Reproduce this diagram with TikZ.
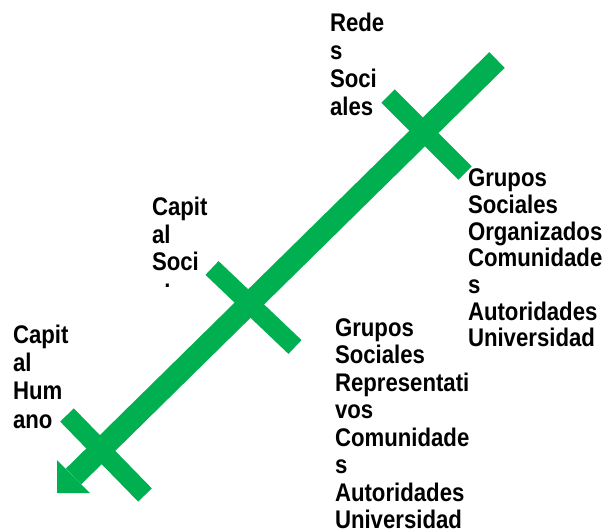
\documentclass[tikz,border=0pt]{standalone}
\usepackage{fontspec}
\setmainfont{Liberation Sans}[FakeStretch=0.87]
\definecolor{arrowgreen}{RGB}{0,176,80}
\begin{document}
\begin{tikzpicture}[x=1pt,y=-1pt,
  shaft/.style={draw=arrowgreen,line width=22pt},
  tick/.style={draw=arrowgreen,line width=19pt},
  lbl/.style={anchor=base west,inner sep=0pt,outer sep=0pt,text=black}]
\useasboundingbox (0,0) rectangle (607,529);
% main arrow
\coordinate (top) at (497,60);
\coordinate (back) at (73.5,476.5);
\coordinate (tipA) at (57,460);
\coordinate (tip) at (57,493);
\coordinate (tipB) at (90,493);
\draw[shaft] (top) -- (back);
\fill[arrowgreen] (tipA) -- (tip) -- (tipB) -- cycle;
% cross ticks
\coordinate (t1a) at (388,96);  \coordinate (t1b) at (465,173);
\coordinate (t2a) at (212,268); \coordinate (t2b) at (295,347);
\coordinate (t3a) at (67,415);  \coordinate (t3b) at (145,495);
\draw[tick] (t1a) -- (t1b);
\draw[tick] (t2a) -- (t2b);
\draw[tick] (t3a) -- (t3b);
% labels
\node[lbl] (redes) at (330,32) {\parbox[t]{90pt}{\fontsize{25.5}{27.7}\selectfont\bfseries Rede\\s\\Soci\\ales}};
\node[lbl] (social) at (152,216) {\parbox[t]{90pt}{\fontsize{25.5}{27.3}\selectfont\bfseries Capit\\al\\Soci}};
\begin{scope}
\clip (140,270) rectangle (260,286);
\node[lbl] (socialrest) at (152,302) {\fontsize{25.5}{27.3}\selectfont\bfseries al};
\end{scope}
\node[lbl] (humano) at (13,343.3) {\parbox[t]{90pt}{\fontsize{25.5}{28.3}\selectfont\bfseries Capit\\al\\Hum\\ano}};
\node[lbl] (grupos1) at (335,336) {\parbox[t]{160pt}{\fontsize{25.5}{27.5}\selectfont\bfseries Grupos\\Sociales\\Representati\\vos\\Comunidade\\s\\Autoridades\\Universidad}};
\node[lbl] (grupos2) at (468,186.7) {\parbox[t]{160pt}{\fontsize{25.5}{26.7}\selectfont\bfseries Grupos\\Sociales\\Organizados\\Comunidade\\s\\Autoridades\\Universidad}};
\end{tikzpicture}
\end{document}
